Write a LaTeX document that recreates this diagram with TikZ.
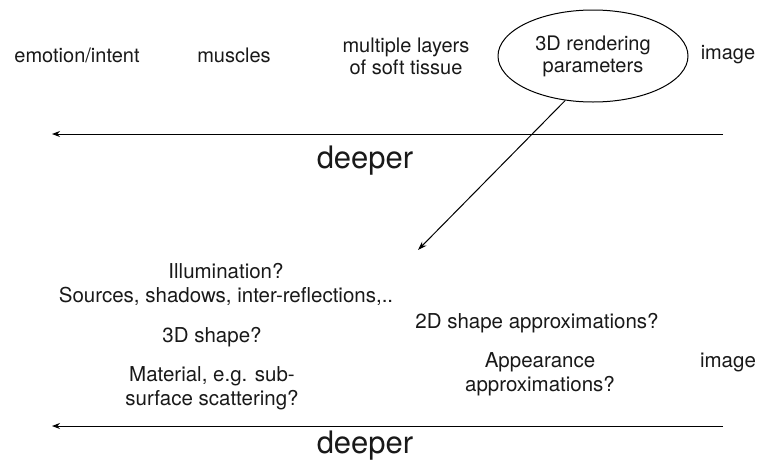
\documentclass[tikz,border=0pt]{standalone}
\usepackage{fontspec}
\setmainfont{TeX Gyre Heros}
\usetikzlibrary{arrows.meta,shapes.geometric}
\begin{document}
\begin{tikzpicture}[x=1pt,y=-1pt,
  lbl/.style={inner sep=0pt,align=center,font=\fontsize{20}{22}\selectfont,text=black!90},
  lowlbl/.style={lbl,font=\fontsize{20.5}{24}\selectfont},
  deep/.style={inner sep=0pt,font=\fontsize{31}{34}\selectfont,text=black!90},
  axis/.style={line width=1pt,-{Stealth[length=8pt,width=6pt]}},
  link/.style={line width=1pt,-{Stealth[length=9pt,width=6pt]}}]
\useasboundingbox (0,0) rectangle (768,464);
% upper row of layers
\node[lbl] (emo) at (77,55) {emotion/intent};
\node[lbl] (mus) at (234,55) {muscles};
\node[lbl] (tis) at (406,56) {multiple layers\\of soft tissue};
\node[lbl,draw,ellipse,line width=1pt,minimum width=190pt,minimum height=92pt] (rend) at (593,56) {3D rendering\\parameters};
\node[lbl] (img1) at (728,55) {image};
% upper depth axis
\coordinate (a1r) at (723,134);
\coordinate (a1l) at (52,134);
\draw[axis] (a1r) -- (a1l);
\node[deep] (dp1) at (365,161) {deeper};
% expansion of the rendering parameters
\coordinate (lowtip) at (418,250);
\draw[link] (rend.-122) -- (lowtip);
% lower row of layers
\node[lowlbl] (ill) at (226,284) {Illumination?\\Sources, shadows, inter-reflections,..};
\node[lowlbl] (shp) at (212,337) {3D shape?};
\node[lowlbl] (mat) at (212,388) {Material, e.g. sub-\\surface scattering?};
\node[lowlbl] (app2d) at (537,323) {2D shape approximations?};
\node[lowlbl] (appr) at (540,374) {Appearance\\approximations?};
\node[lowlbl] (img2) at (728,362) {image};
% lower depth axis
\coordinate (a2r) at (723,426);
\coordinate (a2l) at (52,426);
\draw[axis] (a2r) -- (a2l);
\node[deep] (dp2) at (365,446) {deeper};
\end{tikzpicture}
\end{document}
